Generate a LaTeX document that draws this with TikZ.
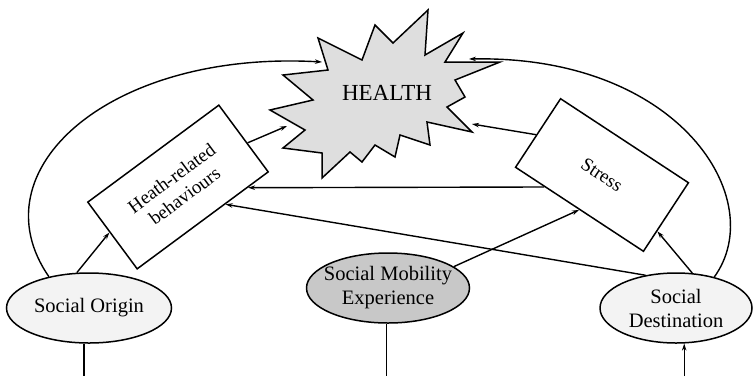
\documentclass[tikz,border=0pt]{standalone}
\usepackage{fontspec}
\setmainfont{Liberation Serif}
\usetikzlibrary{arrows.meta,calc,shapes.geometric}
\definecolor{starfill}{RGB}{222,222,222}
\definecolor{midfill}{RGB}{200,200,200}
\definecolor{lightfill}{RGB}{243,243,243}
\begin{document}
\begin{tikzpicture}[x=1pt,y=-1pt,
  line/.style={line width=1.4pt, draw=black},
  arr/.style={line, -{Stealth[length=7pt,width=4.5pt]}},
  box/.style={draw=black, line width=1.5pt, fill=white, minimum width=163pt, minimum height=83pt, inner sep=0pt, align=center, font=\fontsize{19}{22}\selectfont},
  ell/.style={ellipse, draw=black, line width=1.5pt, inner sep=0pt, minimum height=70pt},
  lbl/.style={align=center, inner sep=0pt, font=\fontsize{20.5}{24}\selectfont},
]
\useasboundingbox (0,0) rectangle (754,376);
\coordinate (bot) at (0,376);
% star
\draw[line width=1.5pt, fill=starfill] (318,38) -- (362,60) -- (375,25) -- (393,43) -- (428,10) -- (425,55) -- (463,33) -- (445,62) -- (500,62) -- (455,80) -- (465,97) -- (447,107) -- (472,132) -- (427,122) -- (430,145) -- (400,135) -- (395,157) -- (375,145) -- (362,162) -- (350,152) -- (322,178) -- (322,153) -- (283,148) -- (305,130) -- (270,110) -- (313,100) -- (283,75) -- (328,70) -- cycle;
\node[inner sep=0pt] (health) at (387,93) {\fontsize{23}{26}\selectfont HEALTH};
\coordinate (hl) at (322,62);
\coordinate (hr) at (469,59);
\coordinate (hbl) at (287,126);
\coordinate (hbr) at (472,124);
% boxes
\node[box, rotate=36.5] (heath) at (178,187) {Heath-related\\behaviours};
\node[box, rotate=-33.3, minimum width=153pt, minimum height=82pt] (stress) at (602,175) {Stress};
% ellipses
\node[ell, fill=lightfill, minimum width=165pt, label={[lbl]center:Social Origin}] (origin) at (89,308) {};
\node[ell, fill=midfill, minimum width=163pt, label={[lbl]center:Social Mobility\\Experience}] (mob) at (388,288) {};
\node[ell, fill=lightfill, minimum width=152pt, label={[lbl]center:Social\\Destination}] (dest) at (676,308) {};
% connectors
\draw[arr] (origin.142) .. controls (-25,170) and (110,50) .. (hl);
\draw[arr] (dest.39) .. controls (770,200) and (680,55) .. (hr);
\draw[arr] (origin.109) -- ($(heath.south west)!0.55!(heath.north west)$);
\draw[arr] ($(heath.south east)!0.43!(heath.north east)$) -- (hbl);
\draw[arr] ($(stress.south west)!0.47!(stress.north west)$) -- (hbr);
\draw[arr] ($(stress.south west)!0.23!(stress.south east)$) -- ($(heath.south west)!0.84!(heath.south east)$);
\draw[arr] (dest.133) -- ($(heath.south west)!0.67!(heath.south east)$);
\draw[arr] (mob.18) -- (stress.south);
\draw[arr] (dest.65) -- ($(stress.south east)!0.3!(stress.north east)$);
\draw[line] (origin.262) -- (origin.262 |- bot);
\draw[line] (mob.268) -- (mob.268 |- bot);
\draw[arr] (dest.283 |- bot) -- (dest.283);
\end{tikzpicture}
\end{document}
